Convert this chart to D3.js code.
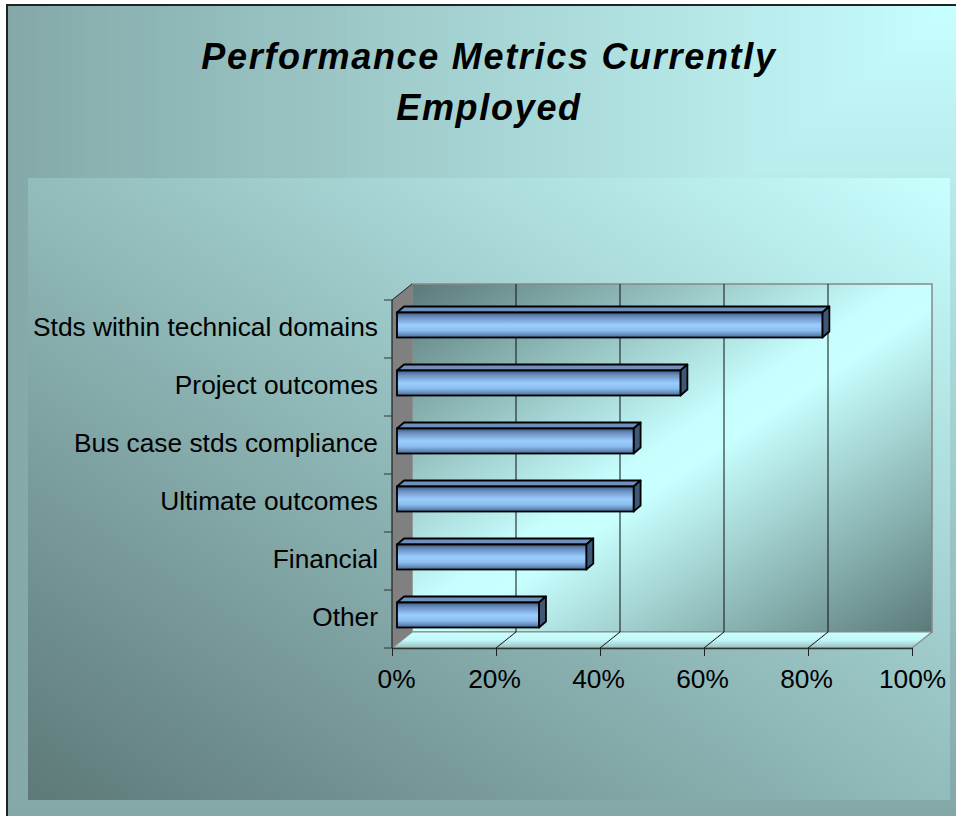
<!DOCTYPE html>
<html>
<head>
<meta charset="utf-8">
<script src="https://cdn.jsdelivr.net/npm/d3@7"></script>
<style>
  html, body { margin: 0; padding: 0; background: #ffffff; }
  svg { display: block; }
  text { font-family: "Liberation Sans", Arial, sans-serif; fill: #000; }
</style>
</head>
<body>
<svg id="chart" width="956" height="816"></svg>
<script>
// ---- data ----
const titleLines = ["Performance Metrics Currently", "Employed"];
const categories = [
  "Stds within technical domains",
  "Project outcomes",
  "Bus case stds compliance",
  "Ultimate outcomes",
  "Financial",
  "Other"
];
const values = [0.818, 0.545, 0.455, 0.455, 0.364, 0.273];
const tickValues = [0, 0.2, 0.4, 0.6, 0.8, 1.0];
const tickLabels = ["0%", "20%", "40%", "60%", "80%", "100%"];

// ---- setup ----
const W = 956, H = 816;
const svg = d3.select("#chart");
const defs = svg.append("defs");

// outer frame background: rectangular "from corner" gradient anchored top-right
const frame = {x: 8, y: 6, w: W - 8, h: H - 6};
defs.append("clipPath").attr("id", "frameClip")
  .append("rect").attr("x", frame.x).attr("y", frame.y).attr("width", frame.w).attr("height", frame.h);
const outerLight = "#c8ffff", outerDark = "#84a8a8";
const gOuter = svg.append("g").attr("clip-path", "url(#frameClip)");
const steps = 80;
for (let i = steps; i >= 1; i--) {
  const t = i / steps;
  gOuter.append("rect")
    .attr("x", W - t * W).attr("y", 0)
    .attr("width", t * W).attr("height", t * H)
    .attr("fill", d3.interpolateRgb(outerLight, outerDark)(t));
}
svg.append("line").attr("x1", 7).attr("x2", 7).attr("y1", 5).attr("y2", H)
  .attr("stroke", "#222").attr("stroke-width", 2);
svg.append("line").attr("x1", 6).attr("x2", W).attr("y1", 5).attr("y2", 5)
  .attr("stroke", "#222").attr("stroke-width", 2);

// inner chart area
const inner = defs.append("linearGradient").attr("id", "innerGrad")
  .attr("x1", 1).attr("y1", 0).attr("x2", 0).attr("y2", 1);
inner.append("stop").attr("offset", 0).attr("stop-color", "#c8ffff");
inner.append("stop").attr("offset", 1).attr("stop-color", "#5d7978");
svg.append("rect").attr("x", 28).attr("y", 178).attr("width", 922).attr("height", 622)
  .attr("fill", "url(#innerGrad)");

// title
const title = svg.append("text").attr("text-anchor", "middle")
  .style("font-weight", "bold").style("font-style", "italic")
  .style("font-size", "36px").style("letter-spacing", "1.7px");
title.selectAll("tspan").data(titleLines).join("tspan")
  .attr("x", 489).attr("y", (d, i) => 69 + i * 51)
  .text(d => d);

// ---- scales ----
const x = d3.scaleLinear().domain([0, 1]).range([392, 912]);
const y = d3.scaleBand().domain(categories).range([300, 648]).paddingInner(0).paddingOuter(0);
const depth = {dx: 20, dy: -16};
const floorY = 648;
const topY = 300;

// back wall
const wall = defs.append("linearGradient").attr("id", "wallGrad")
  .attr("x1", 0).attr("y1", 0).attr("x2", 1).attr("y2", 1);
wall.append("stop").attr("offset", 0).attr("stop-color", "#5a7a78");
wall.append("stop").attr("offset", 0.47).attr("stop-color", "#c6fdfd");
wall.append("stop").attr("offset", 0.53).attr("stop-color", "#c8ffff");
wall.append("stop").attr("offset", 1).attr("stop-color", "#5a7a78");
svg.append("rect")
  .attr("x", x(0) + depth.dx).attr("y", topY + depth.dy)
  .attr("width", x(1) - x(0)).attr("height", floorY - topY)
  .attr("fill", "url(#wallGrad)").attr("stroke", "#888").attr("stroke-width", 1.5);

// floor
const floorG = defs.append("linearGradient").attr("id", "floorGrad")
  .attr("x1", 0).attr("y1", 0).attr("x2", 0).attr("y2", 1);
floorG.append("stop").attr("offset", 0).attr("stop-color", "#c8ffff");
floorG.append("stop").attr("offset", 0.5).attr("stop-color", "#c2f8f8");
floorG.append("stop").attr("offset", 1).attr("stop-color", "#98bebe");
svg.append("path")
  .attr("d", `M${x(0)},${floorY} L${x(0) + depth.dx},${floorY + depth.dy} L${x(1) + depth.dx},${floorY + depth.dy} L${x(1)},${floorY} Z`)
  .attr("fill", "url(#floorGrad)").attr("stroke", "#888").attr("stroke-width", 1.2);

// side wall
svg.append("path")
  .attr("d", `M${x(0)},${topY} L${x(0) + depth.dx},${topY + depth.dy} L${x(0) + depth.dx},${floorY + depth.dy} L${x(0)},${floorY} Z`)
  .attr("fill", "#808080");
svg.append("line")
  .attr("x1", x(0)).attr("y1", topY).attr("x2", x(0) + depth.dx).attr("y2", topY + depth.dy)
  .attr("stroke", "#222").attr("stroke-width", 1);

// gridlines
const grid = tickValues.filter(v => v > 0 && v < 1);
svg.append("g").selectAll("path").data(grid).join("path")
  .attr("d", v => `M${x(v)},${floorY} L${x(v) + depth.dx},${floorY + depth.dy} L${x(v) + depth.dx},${topY + depth.dy}`)
  .attr("fill", "none").attr("stroke", "#111").attr("stroke-width", 1);

// axes
const xAxis = d3.axisBottom(x).tickValues(tickValues).tickSize(8).tickSizeOuter(0)
  .tickFormat((d, i) => tickLabels[i]);
const gx = svg.append("g").attr("transform", `translate(0,${floorY})`).call(xAxis);
gx.select(".domain").attr("stroke", "#333").attr("stroke-width", 1.5);
gx.selectAll(".tick line").attr("stroke", "#222");
gx.selectAll(".tick text").attr("dy", null).attr("y", 40)
  .attr("dx", (d, i) => i === 0 ? 4 : (i === tickValues.length - 1 ? 0 : -2))
  .style("font-size", "26.3px").style("font-family", "'Liberation Sans', Arial, sans-serif").attr("fill", "#000");

const gy = svg.append("g");
gy.append("line").attr("x1", x(0)).attr("x2", x(0)).attr("y1", topY).attr("y2", floorY)
  .attr("stroke", "#222").attr("stroke-width", 1.2);
const bounds = categories.map(c => y(c)).concat([floorY]);
gy.selectAll("line.tk").data(bounds).join("line").attr("class", "tk")
  .attr("x1", x(0) - 8).attr("x2", x(0)).attr("y1", d => d).attr("y2", d => d)
  .attr("stroke", "#333").attr("stroke-width", 1);
gy.selectAll("text").data(categories).join("text")
  .attr("x", 378).attr("y", d => y(d) + y.bandwidth() / 2 + 7)
  .attr("text-anchor", "end").style("font-size", "26.3px")
  .text(d => d);

// bars (3D)
const barH = 25;
const barShift = {dx: 5, dy: -4};
const barDepth = {dx: 7, dy: -6};
const front = defs.append("linearGradient").attr("id", "barFront")
  .attr("x1", 0).attr("y1", 0).attr("x2", 0).attr("y2", 1);
[[0, "#3e5b82"], [0.18, "#6a8fc0"], [0.5, "#9acdff"], [0.72, "#8dbdef"], [1, "#4a6b96"]]
  .forEach(([o, c]) => front.append("stop").attr("offset", o).attr("stop-color", c));

const bars = svg.append("g").selectAll("g").data(categories.map((c, i) => ({c, v: values[i]})))
  .join("g");
bars.each(function(d) {
  const g = d3.select(this);
  const x0 = x(0) + barShift.dx, x1 = x(d.v) + barShift.dx;
  const y0 = y(d.c) + (y.step() - barH) / 2 + barShift.dy, y1 = y0 + barH;
  g.append("path")
    .attr("d", `M${x0},${y0} L${x0 + barDepth.dx},${y0 + barDepth.dy} L${x1 + barDepth.dx},${y0 + barDepth.dy} L${x1},${y0} Z`)
    .attr("fill", "#6f90bd").attr("stroke", "#000").attr("stroke-width", 1.8).attr("stroke-linejoin", "round");
  g.append("path")
    .attr("d", `M${x1},${y0} L${x1 + barDepth.dx},${y0 + barDepth.dy} L${x1 + barDepth.dx},${y1 + barDepth.dy} L${x1},${y1} Z`)
    .attr("fill", "#3f5878").attr("stroke", "#000").attr("stroke-width", 1.8).attr("stroke-linejoin", "round");
  g.append("rect")
    .attr("x", x0).attr("y", y0).attr("width", x1 - x0).attr("height", barH)
    .attr("fill", "url(#barFront)").attr("stroke", "#000").attr("stroke-width", 1.8);
});
</script>
</body>
</html>
